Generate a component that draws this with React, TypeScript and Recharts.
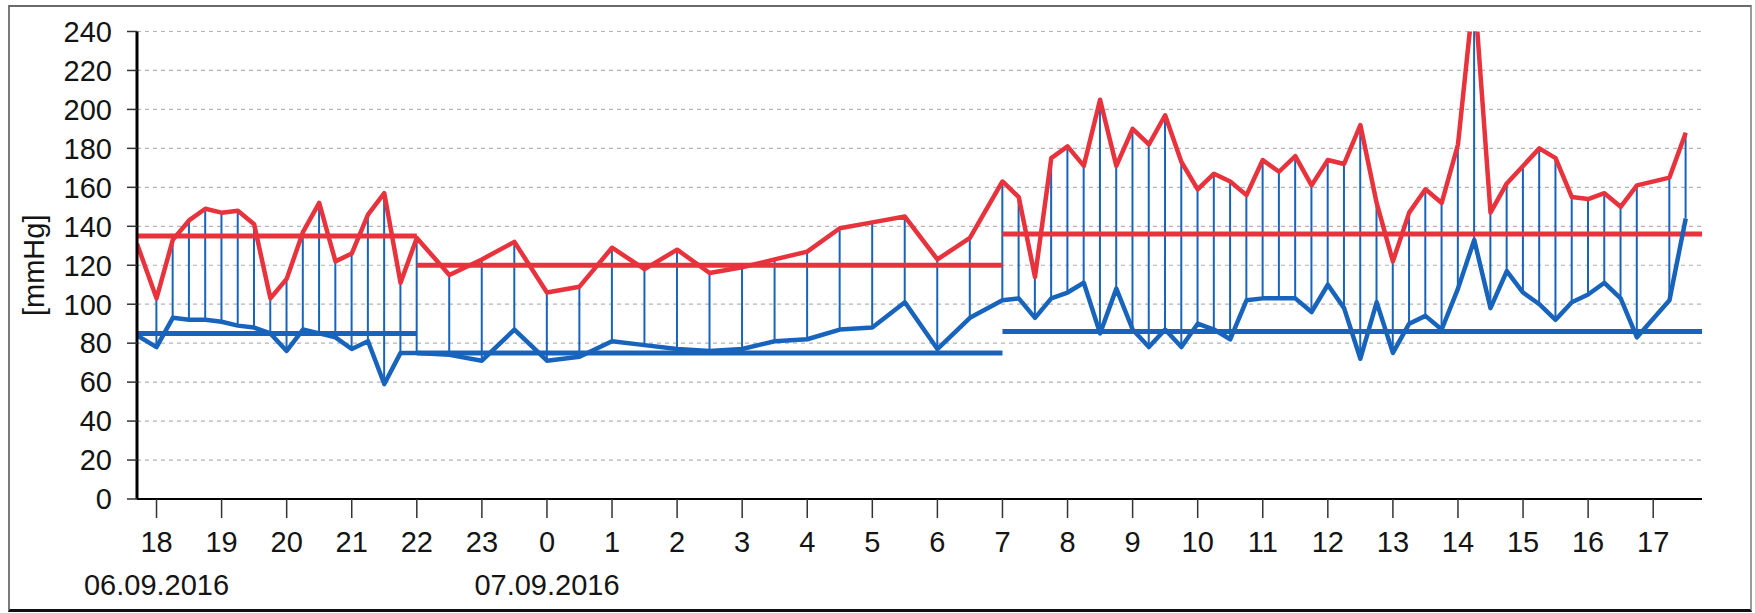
import * as React from "react"
import { Bar, CartesianGrid, ComposedChart, Line, ReferenceLine, XAxis, YAxis } from "recharts"

// measurement times in hours from 00:00 on 06.09.2016 (24 = midnight)
const hours = [
    17.7, 18, 18.25, 18.5, 18.75, 19, 19.25, 19.5, 19.75, 20, 20.25, 20.5, 20.75, 21, 21.25, 21.5, 21.75, 22,
    22.5, 23, 23.5, 24, 24.5, 25, 25.5, 26, 26.5, 27, 27.5, 28, 28.5, 29, 29.5, 30, 30.5,
    31, 31.25, 31.5, 31.75, 32, 32.25, 32.5, 32.75, 33, 33.25, 33.5, 33.75, 34, 34.25, 34.5, 34.75,
    35, 35.25, 35.5, 35.75, 36, 36.25, 36.5, 36.75, 37, 37.25, 37.5, 37.75, 38, 38.25, 38.5, 38.75,
    39, 39.25, 39.5, 39.75, 40, 40.25, 40.5, 40.75, 41.25, 41.5,
]

const systolic = [
    131, 103, 133, 143, 149, 147, 148, 141, 103, 113, 137, 152, 122, 126, 146, 157, 111, 134,
    115, 123, 132, 106, 109, 129, 118, 128, 116, 119, 123, 127, 139, 142, 145, 123, 134,
    163, 155, 114, 175, 181, 171, 205, 171, 190, 182, 197, 173, 159, 167, 163, 156,
    174, 168, 176, 161, 174, 172, 192, 152, 122, 147, 159, 152, 182, 262, 147, 162,
    171, 180, 175, 155, 154, 157, 150, 161, 165, 188,
]

const diastolic = [
    84, 78, 93, 92, 92, 91, 89, 88, 85, 76, 87, 85, 83, 77, 81, 59, 75, 75,
    74, 71, 87, 71, 73, 81, 79, 77, 76, 77, 81, 82, 87, 88, 101, 77, 93,
    102, 103, 93, 103, 106, 111, 85, 108, 87, 78, 87, 78, 90, 87, 82, 102,
    103, 103, 103, 96, 110, 98, 72, 101, 75, 90, 94, 87, 108, 133, 98, 117,
    106, 100, 92, 101, 105, 111, 103, 83, 102, 144,
]

// period averages (day / night / day)
const periodStart = [17.7, 22, 31]
const periodEnd = [22, 31, 41.75]
const periodSys = [135, 120, 136]
const periodDia = [85, 75, 86]

const hourTicks = [18, 19, 20, 21, 22, 23, 24, 25, 26, 27, 28, 29, 30, 31, 32, 33, 34, 35, 36, 37, 38, 39, 40, 41]
const dateTicks = [18, 24]
const dateLabels = ["06.09.2016", "07.09.2016"]
const yTicks = [0, 20, 40, 60, 80, 100, 120, 140, 160, 180, 200, 220, 240]

const RED = "#e8323c"
const BLUE = "#1864bd"
const FONT = "'Liberation Sans', Arial, sans-serif"

const data = hours.map((h, i) => ({
    h,
    sys: systolic[i],
    dia: diastolic[i],
    range: [diastolic[i], systolic[i]],
}))

const HourTick = ({ x, y, payload }: any) => {
    const di = dateTicks.indexOf(payload.value)
    return (
        <g>
            <text x={x} y={y + 34} textAnchor="middle" fontSize={29} fontFamily={FONT} fill="#141414">
                {payload.value % 24}
            </text>
            {di >= 0 && (
                <text x={x} y={y + 77} textAnchor="middle" fontSize={29} fontFamily={FONT} fill="#141414">
                    {dateLabels[di]}
                </text>
            )}
        </g>
    )
}

const UnitLabel = ({ viewBox }: any) => {
    const cx = (viewBox?.x ?? 0) + 44
    const cy = (viewBox?.y ?? 0) + (viewBox?.height ?? 0) / 2
    return (
        <text x={cx} y={cy} transform={`rotate(-90, ${cx}, ${cy})`} textAnchor="middle" fontSize={29} fontFamily={FONT} fill="#141414">
            [mmHg]
        </text>
    )
}

export default function App() {
    return (
        <div style={{ position: "absolute", left: 0, top: 0, width: 1755, height: 613, background: "#fff", overflow: "hidden" }}>
            <div style={{ position: "absolute", left: 8, top: 5, width: 1740, height: 602, borderTop: "2px solid #6a6a6a", borderLeft: "2px solid #7a7a7a", borderRight: "2px solid #9a9a9a", borderBottom: "3px solid #111" }} />
            <div style={{ position: "absolute", left: 0, top: 0 }}>
                <ComposedChart width={1755} height={613} data={data} margin={{ top: 31.5, right: 53, bottom: 0, left: 0 }}>
                    <CartesianGrid vertical={false} stroke="#b4b4b4" strokeDasharray="4 4" strokeWidth={1.2} />
                    <XAxis
                        dataKey="h"
                        type="number"
                        domain={[17.7, 41.75]}
                        ticks={hourTicks}
                        interval={0}
                        allowDataOverflow
                        height={114}
                        tickSize={19}
                        tickMargin={0}
                        tick={<HourTick />}
                        axisLine={{ stroke: "#000", strokeWidth: 2 }}
                        tickLine={{ stroke: "#333", strokeWidth: 1.5 }}
                    />
                    <YAxis
                        type="number"
                        domain={[0, 240]}
                        ticks={yTicks}
                        interval={0}
                        allowDataOverflow
                        width={137}
                        tickSize={10}
                        tickMargin={15}
                        tick={{ fontSize: 29, fill: "#141414", fontFamily: FONT }}
                        axisLine={{ stroke: "#000", strokeWidth: 3 }}
                        tickLine={{ stroke: "#333", strokeWidth: 1.5 }}
                        label={<UnitLabel />}
                    />
                    <Bar dataKey="range" barSize={2} fill={BLUE} isAnimationActive={false} />
                    {periodStart.map((from, i) => (
                        <ReferenceLine
                            key={`s${i}`}
                            segment={[{ x: from, y: periodSys[i] }, { x: periodEnd[i], y: periodSys[i] }]}
                            stroke={RED}
                            strokeWidth={5}
                        />
                    ))}
                    {periodStart.map((from, i) => (
                        <ReferenceLine
                            key={`d${i}`}
                            segment={[{ x: from, y: periodDia[i] }, { x: periodEnd[i], y: periodDia[i] }]}
                            stroke={BLUE}
                            strokeWidth={5}
                        />
                    ))}
                    <Line type="linear" dataKey="sys" stroke={RED} strokeWidth={4.5} dot={false} strokeLinejoin="round" isAnimationActive={false} />
                    <Line type="linear" dataKey="dia" stroke={BLUE} strokeWidth={4.5} dot={false} strokeLinejoin="round" isAnimationActive={false} />
                </ComposedChart>
            </div>
        </div>
    )
}
